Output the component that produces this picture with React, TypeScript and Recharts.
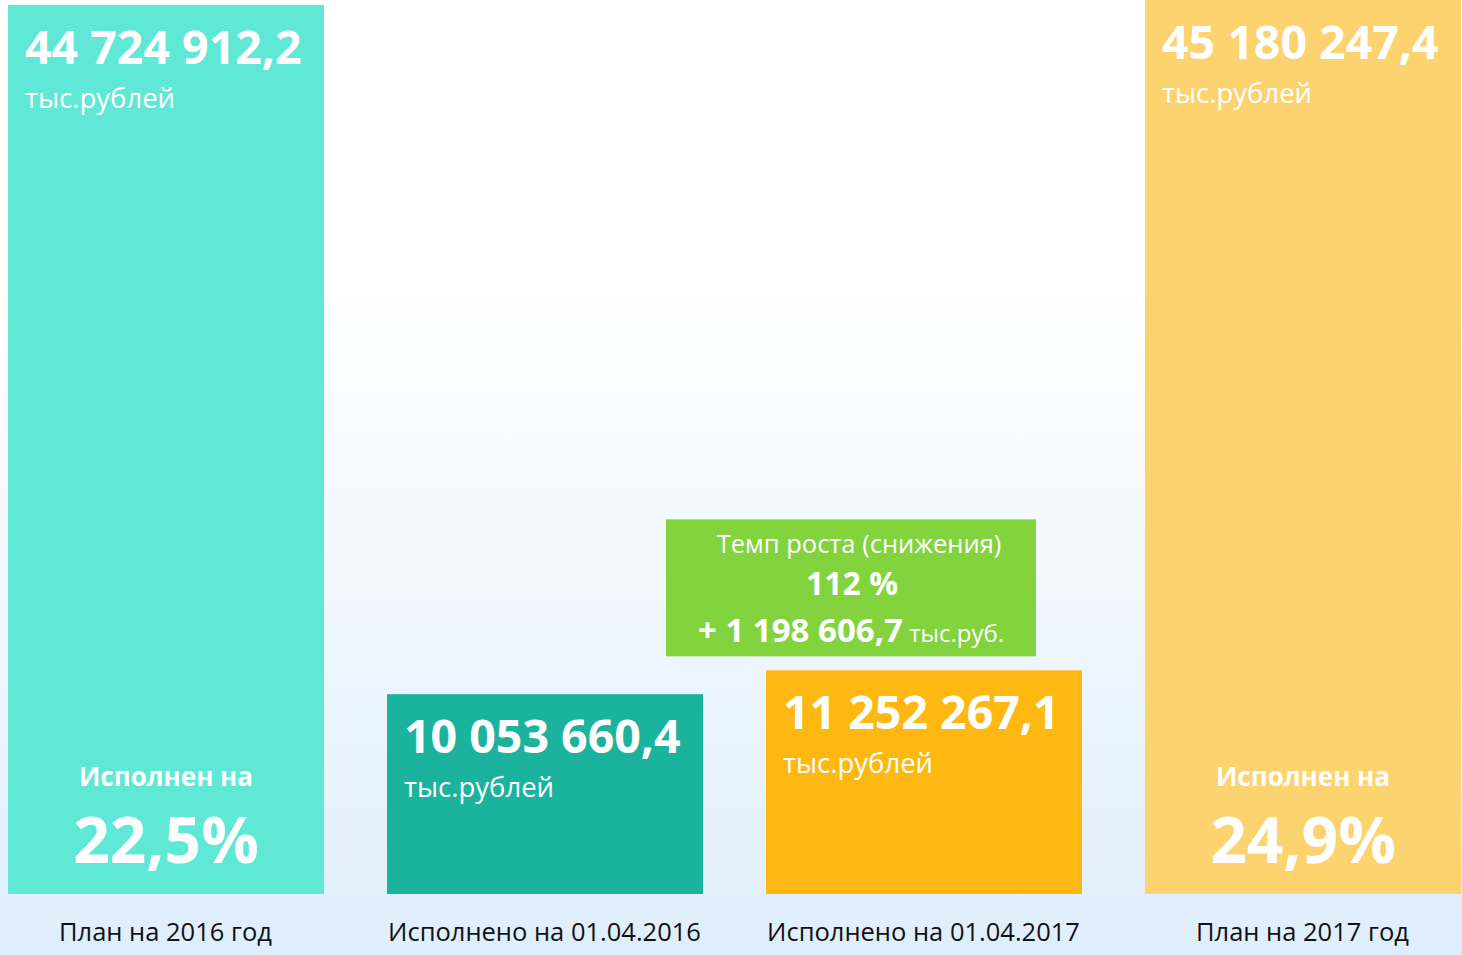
import React from 'react'
import { BarChart, Bar, XAxis, YAxis } from 'recharts'

const categories = ['План на 2016 год', 'Исполнено на 01.04.2016', 'Исполнено на 01.04.2017', 'План на 2017 год']
const values = [44724912.2, 10053660.4, 11252267.1, 45180247.4]
const valueLabels = ['44 724 912,2', '10 053 660,4', '11 252 267,1', '45 180 247,4']
const unitLabel = 'тыс.рублей'
const shareCaption = 'Исполнен на'
const shareLabels = ['22,5%', '', '', '24,9%']
const growthLines = ['Темп роста (снижения)', '112 %', '+ 1 198 606,7', ' тыс.руб.']
const colors = ['#5fe8d5', '#1cb39e', '#feb811', '#fdd370']
const growthColor = '#82d33e'

const FONT = '"Open Sans", sans-serif'

const chartData = categories.map((name, i) => ({ name, value: values[i] }))

// bar + its texts drawn together
const BarShape = (props: any) => {
  const { x, y, width, height, index } = props
  const top = Math.max(y, 4)
  const bottom = y + height
  const cx = x + width / 2
  return (
    <g>
      <rect x={x} y={y} width={width} height={height} fill={colors[index]} />
      <text x={x + 17} y={top + 59} fill="#fff" fontFamily={FONT} fontWeight={700} fontSize={46.5}>
        {valueLabels[index]}
      </text>
      <text x={x + 17} y={top + 103} fill="#fff" fontFamily={FONT} fontSize={27.5}>
        {unitLabel}
      </text>
      {shareLabels[index] && (
        <>
          <text x={cx} y={bottom - 108} textAnchor="middle" fill="#fff" fontFamily={FONT} fontWeight={700} fontSize={26}>
            {shareCaption}
          </text>
          <text x={cx} y={bottom - 31} textAnchor="middle" fill="#fff" fontFamily={FONT} fontWeight={700} fontSize={64}>
            {shareLabels[index]}
          </text>
        </>
      )}
      {index === 2 && (
        <g>
          <rect x={x - 100} y={y - 151} width={370} height={137} fill={growthColor} />
          <text x={x + 93} y={y - 117} textAnchor="middle" fill="#fff" fontFamily={FONT} fontSize={25.5}>
            {growthLines[0]}
          </text>
          <text x={x + 86} y={y - 75} textAnchor="middle" fill="#fff" fontFamily={FONT} fontWeight={700} fontSize={32}>
            {growthLines[1]}
          </text>
          <text x={x + 85} y={y - 28} textAnchor="middle" fill="#fff" fontFamily={FONT}>
            <tspan fontWeight={700} fontSize={33}>{growthLines[2]}</tspan>
            <tspan fontSize={24}>{growthLines[3]}</tspan>
          </text>
        </g>
      )}
    </g>
  )
}

const CategoryTick = ({ x, y, payload }: any) => (
  <text x={x} y={y + 47} textAnchor="middle" fill="#111" fontFamily={FONT} fontSize={25.5}>
    {payload.value}
  </text>
)

export default function App() {
  return (
    <div
      style={{
        position: 'relative',
        width: 1462,
        height: 955,
        overflow: 'hidden',
        background: 'linear-gradient(to bottom, #ffffff 0%, #ffffff 30%, #dfeefc 100%)',
      }}
    >
      <style>{'body{margin:0}'}</style>
      <div style={{ position: 'absolute', left: -24.5, top: -4 }}>
        <BarChart width={1516} height={960} data={chartData} margin={{ top: 0, right: 0, bottom: 0, left: 0 }}>
          <XAxis
            dataKey="name"
            height={62}
            axisLine={false}
            tickLine={false}
            tickSize={0}
            tickMargin={0}
            interval={0}
            tick={<CategoryTick />}
          />
          <YAxis hide domain={[0, 45180247.4]} />
          <Bar dataKey="value" barSize={316} shape={<BarShape />} isAnimationActive={false} />
        </BarChart>
      </div>
    </div>
  )
}
